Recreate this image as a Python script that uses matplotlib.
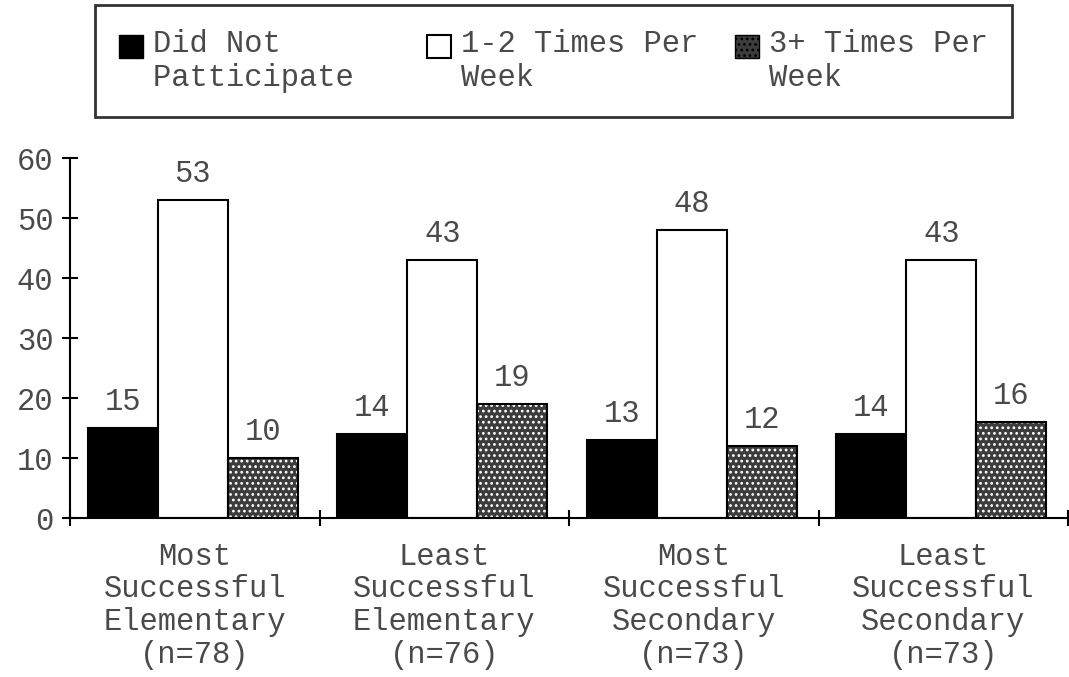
import numpy as np
import matplotlib
matplotlib.use("Agg")
import matplotlib.pyplot as plt
from matplotlib.patches import Patch, Rectangle
from matplotlib.legend_handler import HandlerPatch

plt.rcParams['font.family'] = ['Liberation Mono', 'DejaVu Sans Mono']
plt.rcParams['hatch.linewidth'] = 1.2

# Data
groups = ["Most\nSuccessful\nElementary\n(n=78)",
          "Least\nSuccessful\nElementary\n(n=76)",
          "Most\nSuccessful\nSecondary\n(n=73)",
          "Least\nSuccessful\nSecondary\n(n=73)"]
did_not = [15, 14, 13, 14]
one_two = [53, 43, 48, 43]
three_plus = [10, 19, 12, 16]
series_labels = ["Did Not  \nPatticipate  ", "1-2 Times Per\nWeek", "3+ Times Per\nWeek"]

txt = '#4a4a4a'
fs = 22
dot_fill = '#3c3c3c'

fig = plt.figure(figsize=(10.69, 6.77), dpi=100)
ax = fig.add_axes([70/1069, 1 - 518/677, 998/1069, 360/677])

x = np.arange(len(groups))
w = 0.28
off = 0.072

b1 = ax.bar(x + off, did_not, w, align='edge', color='black', edgecolor='black', linewidth=1.5)
b2 = ax.bar(x + off + w, one_two, w, align='edge', color='white', edgecolor='black', linewidth=1.5)
# dotted grey bars: dark fill + white dot hatch, then black outline
ax.bar(x + off + 2*w, three_plus, w, align='edge', color=dot_fill, edgecolor='white',
       linewidth=0, hatch='...')
b3 = ax.bar(x + off + 2*w, three_plus, w, align='edge', fill=False, edgecolor='black', linewidth=1.5)

for bars, vals in [(b1, did_not), (b2, one_two), (b3, three_plus)]:
    for r, v in zip(bars, vals):
        ax.annotate(str(v), (r.get_x() + r.get_width()/2, v), xytext=(0, 8),
                    textcoords='offset points', ha='center', va='bottom',
                    fontsize=fs, color=txt)

ax.set_xlim(0, 4)
ax.set_ylim(0, 60)
ax.spines['top'].set_visible(False)
ax.spines['right'].set_visible(False)
ax.spines['left'].set_linewidth(1.5)
ax.spines['bottom'].set_linewidth(1.5)

ax.set_yticks(range(0, 61, 10))
ax.tick_params(axis='y', direction='inout', length=12, width=1.5, pad=6,
               labelsize=fs, labelcolor=txt)
ax.set_xticks(np.arange(0, 5))
ax.set_xticklabels([])
ax.tick_params(axis='x', which='major', direction='inout', length=12, width=1.5)
ax.set_xticks(x + 0.5, minor=True)
ax.set_xticklabels(groups, minor=True, fontsize=fs, color=txt, linespacing=1.12)
ax.tick_params(axis='x', which='minor', length=0, pad=17)


# legend swatches sit beside the first line of each label
def top_patch(legend, orig_handle, xdescent, ydescent, width, height, fontsize):
    return Rectangle((-xdescent, -ydescent + 11), width, height)


handles = [Patch(facecolor='black', edgecolor='black'),
           Patch(facecolor='white', edgecolor='black', linewidth=1.5),
           Patch(facecolor=dot_fill, edgecolor='black', hatch='...')]
leg = fig.legend(handles, series_labels, loc='upper left', bbox_to_anchor=(95/1069, 1 - 5/677),
                 ncol=3, fontsize=fs, frameon=True, fancybox=False, edgecolor='black',
                 handlelength=0.78, handleheight=0.78, handletextpad=0.33,
                 columnspacing=1.2, borderpad=0.8, borderaxespad=0, labelcolor=txt,
                 handler_map={Patch: HandlerPatch(patch_func=top_patch)})
leg.get_frame().set_linewidth(2)
for t in leg.get_texts():
    t.set_linespacing(1.15)

fig.savefig("out.png", dpi=100)
